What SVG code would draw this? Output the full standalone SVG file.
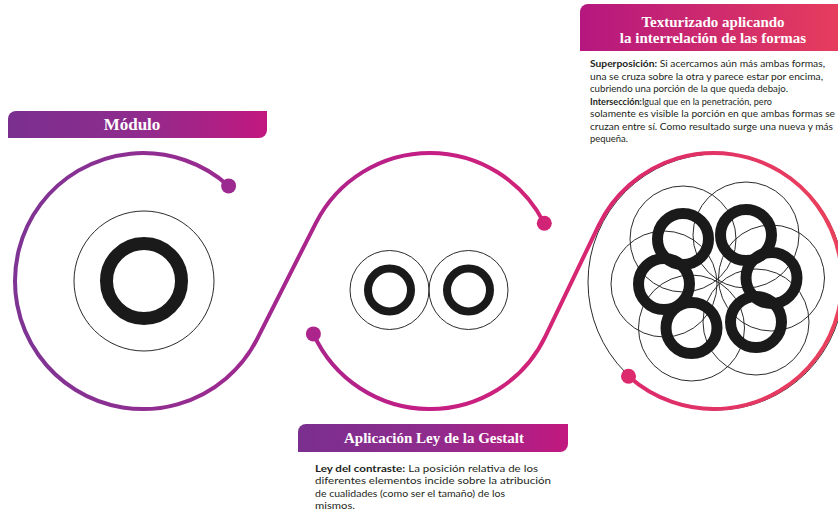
<svg xmlns="http://www.w3.org/2000/svg" width="838" height="518" viewBox="0 0 838 518">
  <style>
    .head { font-family: "Liberation Serif", "Times New Roman", serif; font-weight: bold; font-size: 15px; fill: #ffffff; text-anchor: middle; }
    .body { font-family: Lato, "Liberation Sans", sans-serif; font-size: 10px; fill: #231f20; }
    .b { font-weight: bold; }
    .thin { fill: none; stroke: #2b2b2b; stroke-width: 1; }
    .ring { fill: none; stroke: #1a1a1a; }
    .flow { fill: none; stroke: url(#flowGrad); stroke-width: 4; stroke-linecap: round; }
    .dot { fill: url(#flowGrad); }
  </style>
  <defs>
    <linearGradient id="flowGrad" gradientUnits="userSpaceOnUse" x1="15" y1="0" x2="840" y2="0">
      <stop offset="0" stop-color="#7e3494"/>
      <stop offset="0.3" stop-color="#a0288f"/>
      <stop offset="0.5" stop-color="#c41d85"/>
      <stop offset="0.75" stop-color="#dc2a6c"/>
      <stop offset="1" stop-color="#ea415c"/>
    </linearGradient>
    <linearGradient id="barPurple" x1="0" y1="0" x2="1" y2="0">
      <stop offset="0" stop-color="#7a2f8f"/>
      <stop offset="0.5" stop-color="#8f2c8d"/>
      <stop offset="1" stop-color="#c2187f"/>
    </linearGradient>
    <linearGradient id="barRed" x1="0" y1="0" x2="1" y2="0">
      <stop offset="0" stop-color="#b5177f"/>
      <stop offset="1" stop-color="#e63c5d"/>
    </linearGradient>
  </defs>

  <!-- thin guide circle under the right loop -->
  <circle class="thin" cx="716" cy="282" r="128"/>

  <!-- connectors -->
  <g id="connectors">
    <path class="flow" d="M228.6,185.9 A128,128 0 1 0 257.2,338.9 L315.8,223.1 A128,128 0 0 1 544.3,223.3"/>
    <path class="flow" d="M313.4,333.9 A128,128 0 0 0 545.4,336.4 L598.6,225.6 A128,128 0 1 1 628.5,376.3"/>
    <circle class="dot" cx="228.6" cy="185.9" r="7.5"/>
    <circle class="dot" cx="544.3" cy="223.3" r="7.5"/>
    <circle class="dot" cx="313.4" cy="333.9" r="7.5"/>
    <circle class="dot" cx="628.5" cy="376.3" r="7.5"/>
  </g>

  <!-- single module -->
  <g id="modulo">
    <path d="M16,111 H267 V130 A8,8 0 0 1 259,138 H8 V119 A8,8 0 0 1 16,111 Z" fill="url(#barPurple)"/>
    <text class="head" x="132" y="130" style="font-size:17px">Módulo</text>
    <circle class="thin" cx="144" cy="281" r="70"/>
    <circle class="ring" cx="144" cy="281" r="37.5" stroke-width="13"/>
  </g>

  <!-- contrast pair -->
  <g id="gestalt">
    <path d="M306,424 H568 V444 A8,8 0 0 1 560,452 H298 V432 A8,8 0 0 1 306,424 Z" fill="url(#barPurple)"/>
    <text class="head" x="434" y="443">Aplicación Ley de la Gestalt</text>
    <circle class="thin" cx="389.5" cy="290" r="39.5"/>
    <circle class="thin" cx="468.5" cy="290" r="39.5"/>
    <circle class="ring" cx="389.5" cy="290" r="21.5" stroke-width="8"/>
    <circle class="ring" cx="468.5" cy="290" r="21.5" stroke-width="8"/>
    <text class="body" x="315" y="471.5" textLength="223" lengthAdjust="spacingAndGlyphs"><tspan class="b">Ley del contraste:</tspan> La posición relativa de los</text>
    <text class="body" x="315" y="484" textLength="236" lengthAdjust="spacingAndGlyphs">diferentes elementos incide sobre la atribución</text>
    <text class="body" x="315" y="496.5" textLength="190" lengthAdjust="spacingAndGlyphs">de cualidades (como ser el tamaño) de los</text>
    <text class="body" x="315" y="509" textLength="40" lengthAdjust="spacingAndGlyphs">mismos.</text>
  </g>

  <!-- rosette texture -->
  <g id="texturizado">
    <path d="M588,4 H838 V51 H580 V12 A8,8 0 0 1 588,4 Z" fill="url(#barRed)"/>
    <text class="head" x="713" y="27">Texturizado aplicando</text>
    <text class="head" x="713" y="43">la interrelación de las formas</text>

    <text class="body" x="590" y="67" textLength="235" lengthAdjust="spacingAndGlyphs"><tspan class="b">Superposición:</tspan> Si acercamos aún más ambas formas,</text>
    <text class="body" x="590" y="79.5" textLength="233" lengthAdjust="spacingAndGlyphs">una se cruza sobre la otra y parece estar por encima,</text>
    <text class="body" x="590" y="92" textLength="198" lengthAdjust="spacingAndGlyphs">cubriendo una porción de la que queda debajo.</text>
    <text class="body" x="590" y="104.5" textLength="182" lengthAdjust="spacingAndGlyphs"><tspan class="b">Intersección:</tspan>Igual que en la penetración, pero</text>
    <text class="body" x="590" y="117" textLength="245" lengthAdjust="spacingAndGlyphs">solamente es visible la porción en que ambas formas se</text>
    <text class="body" x="590" y="129.5" textLength="243" lengthAdjust="spacingAndGlyphs">cruzan entre sí. Como resultado surge una nueva y más</text>
    <text class="body" x="590" y="142" textLength="38" lengthAdjust="spacingAndGlyphs">pequeña.</text>

    <g class="thin">
      <circle cx="683" cy="239" r="53"/>
      <circle cx="746" cy="235" r="53"/>
      <circle cx="771.5" cy="278" r="53"/>
      <circle cx="756" cy="322" r="53"/>
      <circle cx="691.5" cy="328" r="53"/>
      <circle cx="664" cy="284" r="53"/>
    </g>
    <g class="ring" stroke-width="11">
      <circle cx="683" cy="239" r="25.5"/>
      <circle cx="746" cy="235" r="25.5"/>
      <circle cx="771.5" cy="278" r="25.5"/>
      <circle cx="756" cy="322" r="25.5"/>
      <circle cx="691.5" cy="328" r="25.5"/>
      <circle cx="664" cy="284" r="25.5"/>
    </g>
  </g>
</svg>
